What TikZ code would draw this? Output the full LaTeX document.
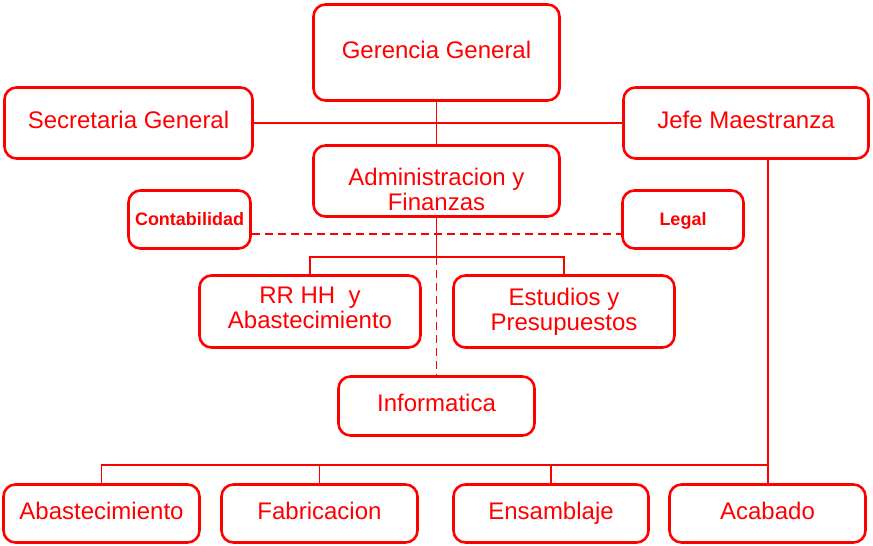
\documentclass[tikz,border=0pt]{standalone}
\usepackage{fontspec}
\setmainfont{Liberation Sans}
\begin{document}
\begin{tikzpicture}[x=1pt,y=-1pt,
  box/.style={draw=red, line width=2.6pt, rounded corners=12pt, text=red, inner sep=0pt, align=center,
    font=\fontsize{24}{24.5}\selectfont, text height=17.5pt, text depth=6pt},
  smallbox/.style={box, font=\fontsize{18}{20}\selectfont\bfseries},
  conn/.style={draw=red, line width=1.8pt},
  dconn/.style={conn, dash pattern=on 8pt off 5pt}]
\useasboundingbox (0,0) rectangle (873,546);
% nodes
\node[box, minimum width=246pt, minimum height=96pt] (gg) at (436.5,52.5) {Gerencia General};
\node[box, minimum width=248pt, minimum height=71pt] (sg) at (128.5,123) {Secretaria General};
\node[box, minimum width=245pt, minimum height=71pt] (jm) at (746,123) {Jefe Maestranza};
\node[box, minimum width=246pt, minimum height=71pt, text height=64pt] (af) at (436.5,181) {Administracion y\\Finanzas};
\node[smallbox, minimum width=122pt, minimum height=58pt] (cont) at (189.5,219.5) {Contabilidad};
\node[smallbox, minimum width=121pt, minimum height=58pt] (legal) at (683,219.5) {Legal};
\node[box, minimum width=221pt, minimum height=72pt, text height=39pt] (rr) at (310,311.5) {RR HH\ \ y\\Abastecimiento};
\node[box, minimum width=221pt, minimum height=72pt, text height=43pt] (es) at (564,311.5) {Estudios y\\Presupuestos};
\node[box, minimum width=196pt, minimum height=59pt] (inf) at (436.5,406) {Informatica};
\node[box, minimum width=196pt, minimum height=58pt] (abas) at (101.5,513.5) {Abastecimiento};
\node[box, minimum width=196pt, minimum height=58pt] (fab) at (319.5,513.5) {Fabricacion};
\node[box, minimum width=195pt, minimum height=58pt] (ens) at (551,513.5) {Ensamblaje};
\node[box, minimum width=196pt, minimum height=58pt] (acab) at (767.5,513.5) {Acabado};
% helper coordinates
\coordinate (bus1) at (436.5,257);
\coordinate (dashy) at (0,234);
\coordinate (bus2) at (768,465);
% connectors
\draw[conn] (gg.south) -- (af.north);
\draw[conn] (sg.east) -- (jm.west);
\draw[conn] (af.south) -- (bus1);
\draw[conn] (rr.north) |- (bus1) -| (es.north);
\draw[dconn] (bus1) -- (inf.north);
\draw[dconn] (cont.east |- dashy) -- (legal.west |- dashy);
\draw[conn] (jm.south -| bus2) -- (bus2) -- (acab.north -| bus2);
\draw[conn] (abas.north) |- (bus2);
\draw[conn] (fab.north) -- (fab.north |- bus2);
\draw[conn] (ens.north) -- (ens.north |- bus2);
\end{tikzpicture}
\end{document}
